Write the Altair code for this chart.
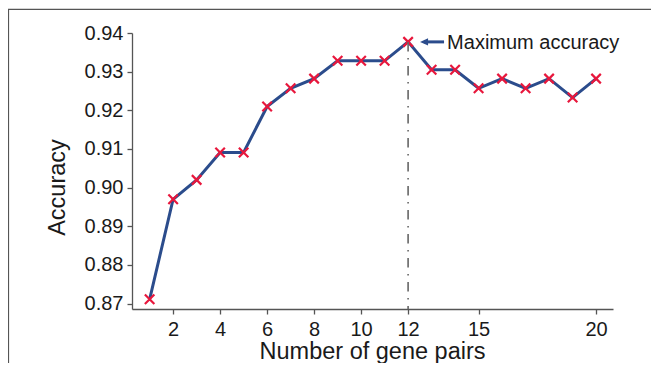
import altair as alt
import pandas as pd

# ---- data ----
gene_pairs = list(range(1, 21))
accuracy = [0.8711, 0.8970, 0.9020, 0.9091, 0.9091, 0.9210, 0.9257, 0.9282,
            0.9328, 0.9328, 0.9328, 0.9377, 0.9305, 0.9305, 0.9257, 0.9282,
            0.9257, 0.9282, 0.9233, 0.9282]
x_ticks = [2, 4, 6, 8, 10, 12, 15, 20]
y_ticks = [0.87, 0.88, 0.89, 0.90, 0.91, 0.92, 0.93, 0.94]
best_pair = 12
best_acc = 0.9377
note_text = "Maximum accuracy"
arrow_tip = 12.51
arrow_tail = 13.53
note_x = 13.66

FONT = "Liberation Sans"
INK = "#1a1a1a"
BLUE = "#2b4c8c"
RED = "#e8173c"
AXIS = "#555555"
W, H = 481, 276

df = pd.DataFrame({"pairs": gene_pairs, "acc": accuracy})

xs = alt.Scale(domain=[0.25, 20.72], nice=False, zero=False)
ys = alt.Scale(domain=[0.8686, 0.94], nice=False, zero=False)

xax = alt.Axis(values=x_ticks, title="Number of gene pairs", format="d",
               labelPadding=5, labelOverlap=False, labelFlush=False,
               titleX=240, titleY=49.5, titleBaseline="alphabetic",
               titleAlign="center")
yax = alt.Axis(values=y_ticks, title="Accuracy", format=".2f", labelPadding=4,
               labelOverlap=False, labelFlush=False,
               titleX=-68, titleY=154, titleAngle=-90, titleBaseline="alphabetic",
               titleAlign="center")

base = alt.Chart(df)

line = base.mark_line(color=BLUE, strokeWidth=3).encode(
    x=alt.X("pairs:Q", scale=xs, axis=xax),
    y=alt.Y("acc:Q", scale=ys, axis=yax),
)

cross = "M-1,-1L1,1M1,-1L-1,1"
points = base.mark_point(shape=cross, size=90, color=RED, strokeWidth=2.2,
                         filled=False, opacity=1).encode(
    x=alt.X("pairs:Q", scale=xs, axis=xax),
    y=alt.Y("acc:Q", scale=ys, axis=yax),
)

best = pd.DataFrame({"pairs": [best_pair], "acc": [best_acc],
                     "tip": [arrow_tip], "tail": [arrow_tail],
                     "head": [arrow_tip + 0.17], "nx": [note_x], "label": [note_text]})
bchart = alt.Chart(best)

vline = bchart.mark_rule(color="#666666", strokeWidth=1.6,
                         strokeDash=[9.5, 6.5, 1.5, 6.5]).encode(
    x=alt.X("pairs:Q", scale=xs, axis=xax),
    y=alt.Y("acc:Q", scale=ys, axis=yax),
    y2=alt.value(H),
)

shaft = bchart.mark_rule(color=BLUE, strokeWidth=3).encode(
    x=alt.X("head:Q", scale=xs, axis=xax),
    x2="tail:Q",
    y=alt.Y("acc:Q", scale=ys, axis=yax),
)
head = bchart.mark_point(shape="M-1,0L1,-0.9L1,0.9Z", size=64, color=BLUE,
                         filled=True, opacity=1).encode(
    x=alt.X("head:Q", scale=xs, axis=xax),
    y=alt.Y("acc:Q", scale=ys, axis=yax),
)
note = bchart.mark_text(align="left", baseline="middle", font=FONT, fontSize=20,
                        color=INK, dy=1).encode(
    x=alt.X("nx:Q", scale=xs, axis=xax),
    y=alt.Y("acc:Q", scale=ys, axis=yax),
    text="label:N",
)

one = alt.Chart(pd.DataFrame({"a": [0]}))
frame_left = one.mark_rule(color=AXIS, strokeWidth=1.2).encode(
    x=alt.value(-123.5), y=alt.value(-24), y2=alt.value(400))
frame_top = one.mark_rule(color=AXIS, strokeWidth=1.2).encode(
    x=alt.value(-124), x2=alt.value(600), y=alt.value(-23.7))

chart = alt.layer(line, points, vline, shaft, head, note, frame_left, frame_top).properties(
    width=W, height=H,
    autosize=alt.AutoSizeParams(type="none"),
    padding={"left": 124, "top": 25, "right": 38, "bottom": 54},
).configure_view(stroke=None).configure_axis(
    grid=False, domainColor=AXIS, domainWidth=1.3, tickColor=AXIS, tickWidth=1.3,
    tickSize=5, labelFont=FONT, labelFontSize=20, labelColor=INK,
    labelOverlap=False,
    titleFont=FONT, titleFontSize=23.5, titleFontWeight="normal", titleColor=INK,
)

chart.save("out.html", embed_options={"renderer": "svg", "actions": False})
